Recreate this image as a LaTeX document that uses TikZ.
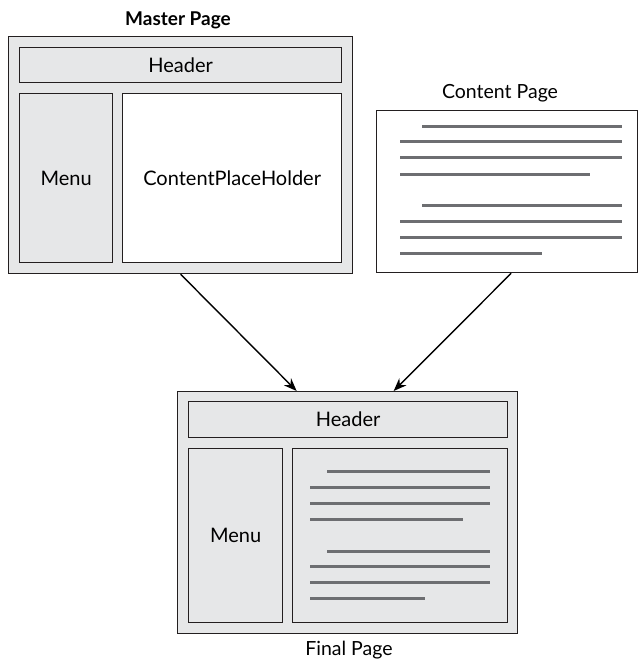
\documentclass[tikz,border=0pt]{standalone}
\usepackage{fontspec}
\setmainfont{Lato}
\usetikzlibrary{arrows.meta}
\definecolor{panel}{HTML}{E6E7E8}
\definecolor{textline}{HTML}{6D6E71}
\definecolor{frame}{HTML}{231F20}
\tikzset{
  box/.style={draw=frame,line width=1.3pt,fill=panel,inner sep=0pt,anchor=north west,font=\fontsize{20}{24}\selectfont},
  page/.style={box,fill=white},
  caption/.style={font=\fontsize{19.5}{24}\selectfont},
  txtline/.style={draw=textline,line width=3pt},
  flow/.style={-{Stealth[length=13pt,width=10pt]},line width=1.4pt,black}
}
\begin{document}
\begin{tikzpicture}[x=1pt,y=-1pt]
\useasboundingbox (0,0) rectangle (639,663);
% Master page
\node[caption,font=\fontsize{19}{24}\selectfont\bfseries] (mlabel) at (178,20) {Master Page};
\node[box,minimum width=344pt,minimum height=237pt] (master) at (8,36) {};
\node[box,minimum width=322pt,minimum height=35pt] (mheader) at (19,47) {Header};
\node[box,minimum width=93pt,minimum height=169pt] (mmenu) at (19,93) {Menu};
\node[page,minimum width=219pt,minimum height=169pt] (holder) at (122,93) {ContentPlaceHolder};
% Content page
\node[caption] (clabel) at (500,93) {Content Page};
\node[page,minimum width=261pt,minimum height=162pt] (content) at (376,110) {};
\foreach \y/\a/\b in {127/422/622,142/400/622,158/400/622,174/400/590,
                      205/422/622,221/400/622,237/400/622,253/400/542}
  \draw[txtline] (\a,\y) -- (\b,\y);
% Final page
\node[box,minimum width=340pt,minimum height=242pt] (final) at (177,391) {};
\node[box,minimum width=319pt,minimum height=36pt] (fheader) at (188,401) {Header};
\node[box,minimum width=94pt,minimum height=174pt] (fmenu) at (188,448) {Menu};
\node[box,minimum width=215pt,minimum height=174pt] (fbody) at (292,448) {};
\foreach \y/\a/\b in {471/327/490,487/310/490,503/310/490,519/310/463,
                      551/327/490,566/310/490,582/310/490,598/310/425}
  \draw[txtline] (\a,\y) -- (\b,\y);
\node[caption] (flabel) at (349,650) {Final Page};
% Arrows
\draw[flow] (master.south) -- ([xshift=-51pt]final.north);
\draw[flow] ([xshift=4pt]content.south) -- ([xshift=46pt]final.north);
\end{tikzpicture}
\end{document}
